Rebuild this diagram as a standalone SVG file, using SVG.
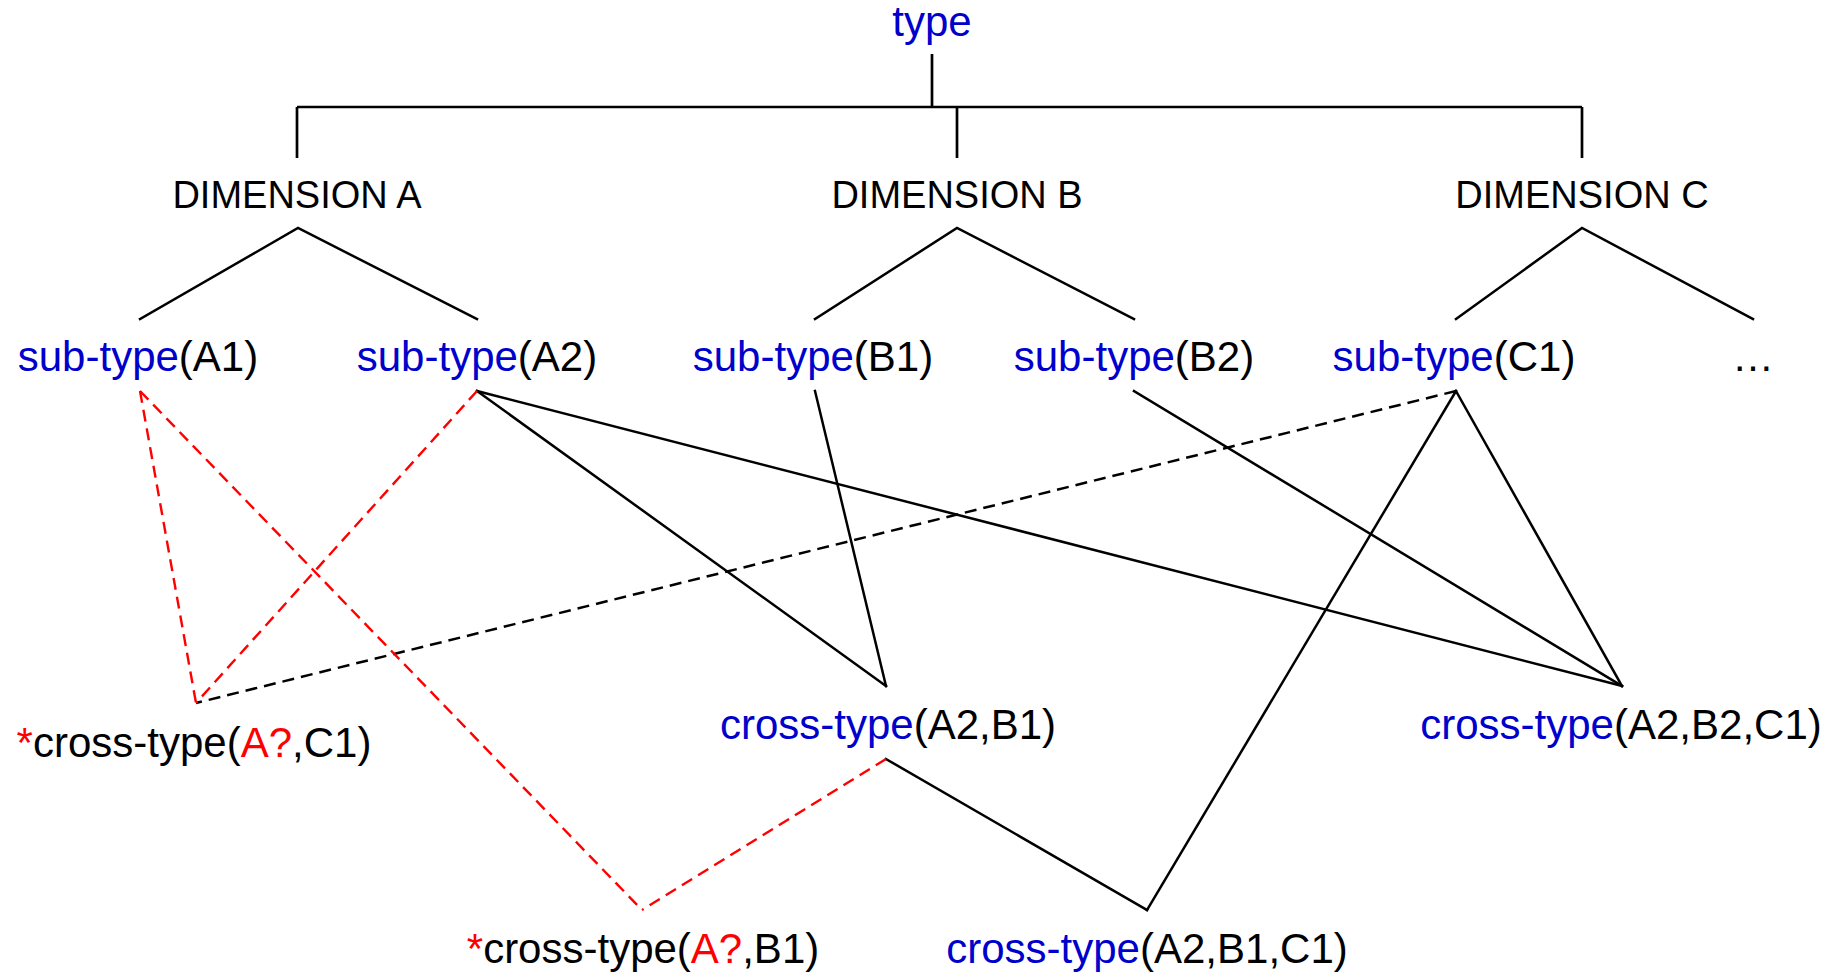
<svg xmlns="http://www.w3.org/2000/svg" width="1846" height="974" viewBox="0 0 1846 974">
  <style>
    text { font-family: "Liberation Sans", Arial, sans-serif; font-size: 42px; fill: #000; text-anchor: middle; }
    .dim { font-size: 38px; }
    .b { fill: #0000cc; }
    .r { fill: #ff0000; }
    .edge { stroke: #000; stroke-width: 2.5; fill: none; stroke-linecap: square; }
    .tree { stroke: #000; stroke-width: 2.7; fill: none; }
    .dash { stroke: #000; stroke-width: 2.5; fill: none; stroke-dasharray: 12 7; }
    .rdash { stroke: #ff0000; stroke-width: 2.4; fill: none; stroke-dasharray: 12 7; }
  </style>
  <rect width="1846" height="974" fill="#fff"/>

  <g id="connectors">
    <!-- hierarchy: type to dimensions -->
    <path class="tree" d="M932 54 V107 M297 107 H1582 M297 107 V158 M957 107 V158 M1582 107 V158"/>
    <!-- dimensions to sub-types -->
    <path class="edge" d="M140 319 L298 228 L477 319"/>
    <path class="edge" d="M815 319 L957 228 L1134 319"/>
    <path class="edge" d="M1456 319 L1582 228 L1753 319"/>
    <!-- valid cross-type links -->
    <path class="edge" d="M477 391 L886 686"/>
    <path class="edge" d="M477 391 L1622 686"/>
    <path class="edge" d="M815 391 L886 686"/>
    <path class="edge" d="M1134 391 L1622 686"/>
    <path class="edge" d="M1456 391 L1622 686"/>
    <path class="edge" d="M1456 391 L1147 910"/>
    <path class="edge" d="M886 759 L1147 910"/>
    <!-- questionable links -->
    <path class="dash" d="M1456 391 L196 703"/>
    <path class="rdash" d="M140 391 L196 703"/>
    <path class="rdash" d="M477 391 L196 703"/>
    <path class="rdash" d="M140 391 L642 910"/>
    <path class="rdash" d="M886 759 L642 910"/>
  </g>

  <g id="type"><text x="932" y="36" class="b">type</text></g>

  <g id="dimA"><text x="297" y="208" class="dim">DIMENSION A</text></g>
  <g id="dimB"><text x="957" y="208" class="dim">DIMENSION B</text></g>
  <g id="dimC"><text x="1582" y="208" class="dim">DIMENSION C</text></g>

  <g id="subA1"><text x="138" y="371"><tspan class="b">sub-type</tspan>(A1)</text></g>
  <g id="subA2"><text x="477" y="371"><tspan class="b">sub-type</tspan>(A2)</text></g>
  <g id="subB1"><text x="813" y="371"><tspan class="b">sub-type</tspan>(B1)</text></g>
  <g id="subB2"><text x="1134" y="371"><tspan class="b">sub-type</tspan>(B2)</text></g>
  <g id="subC1"><text x="1454" y="371"><tspan class="b">sub-type</tspan>(C1)</text></g>
  <g id="more"><text x="1753" y="371">…</text></g>

  <g id="crossAqC1"><text x="194" y="757"><tspan class="r">*</tspan>cross-type(<tspan class="r">A?</tspan>,C1)</text></g>
  <g id="crossA2B1"><text x="888" y="739"><tspan class="b">cross-type</tspan>(A2,B1)</text></g>
  <g id="crossA2B2C1"><text x="1621" y="739"><tspan class="b">cross-type</tspan>(A2,B2,C1)</text></g>
  <g id="crossAqB1"><text x="643" y="963"><tspan class="r">*</tspan>cross-type(<tspan class="r">A?</tspan>,B1)</text></g>
  <g id="crossA2B1C1"><text x="1147" y="963"><tspan class="b">cross-type</tspan>(A2,B1,C1)</text></g>
</svg>
